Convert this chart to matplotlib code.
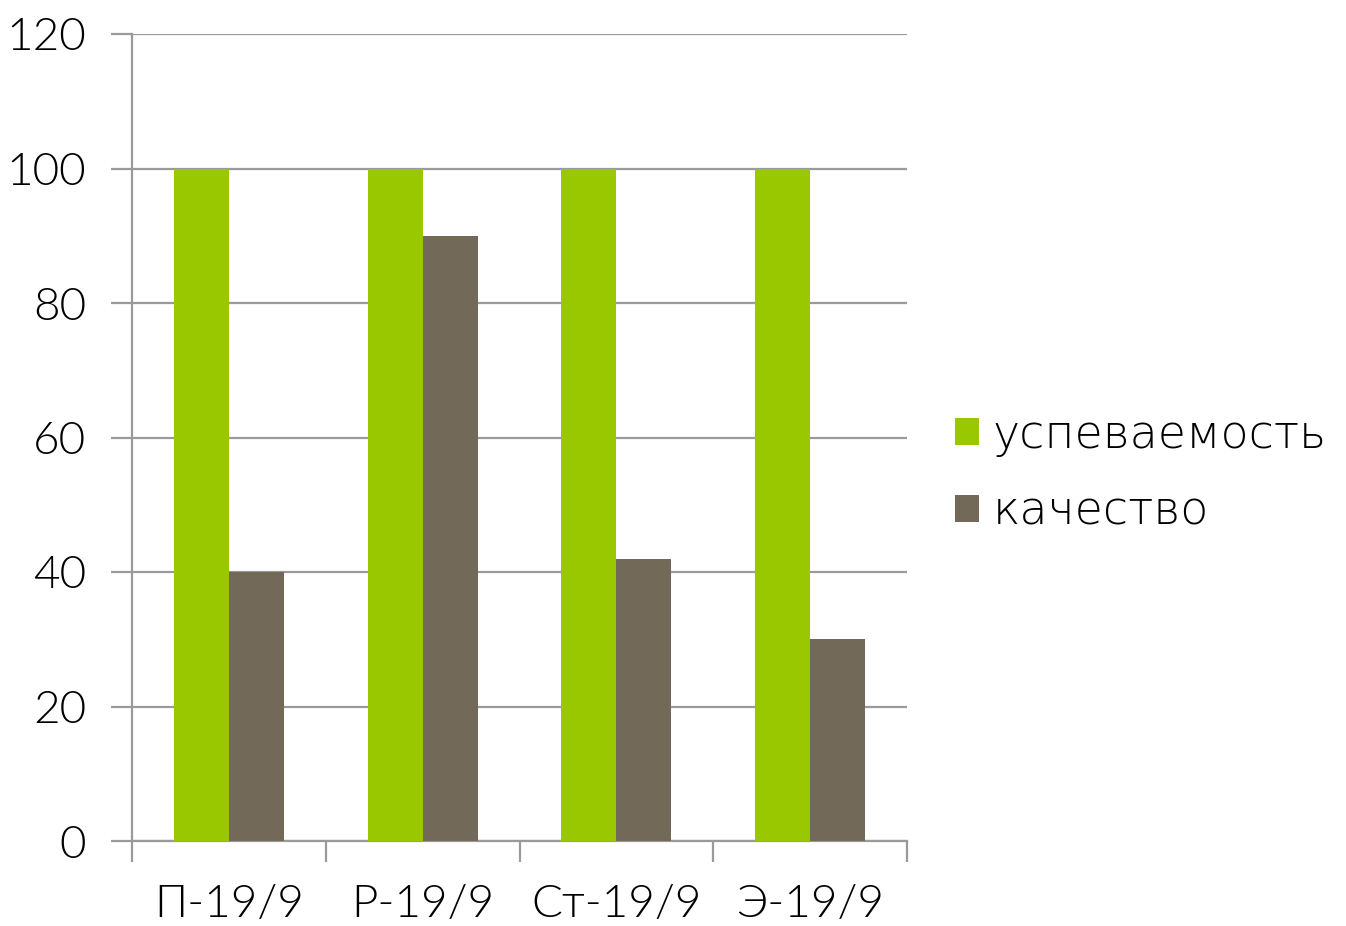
import matplotlib.pyplot as plt
import numpy as np

# данные
groups = ['П-19/9', 'Р-19/9', 'Ст-19/9', 'Э-19/9']
uspevaemost = [100, 100, 100, 100]
kachestvo = [40, 90, 42, 30]

green = '#99C800'
brown = '#736958'
grid_col = '#9A9A9A'

plt.rcParams['font.family'] = ['Lato', 'DejaVu Sans']
plt.rcParams['font.weight'] = 300

fig = plt.figure(figsize=(13.46, 9.26), dpi=100)
ax = fig.add_axes([132 / 1346, 85 / 926, 775 / 1346, 807 / 926])

x = np.arange(len(groups))
w = 0.284
ax.bar(x - w / 2, uspevaemost, w, color=green, label='успеваемость', zorder=3)
ax.bar(x + w / 2, kachestvo, w, color=brown, label='качество', zorder=3)

ax.set_xlim(-0.5, len(groups) - 0.5)
ax.set_ylim(0, 120)
ax.set_yticks(range(0, 121, 20))
ax.yaxis.grid(True, color=grid_col, linewidth=1.6, zorder=0)

# подписи категорий по центру, засечки на границах
ax.set_xticks(x)
ax.set_xticklabels(groups, fontsize=33)
ax.set_xticks(np.arange(-0.5, len(groups)), minor=True)
ax.tick_params(axis='x', which='major', length=0, pad=31)
ax.tick_params(axis='x', which='minor', length=15, width=1.6, color=grid_col)
ax.tick_params(axis='y', length=15, width=1.6, color=grid_col, labelsize=33, pad=18)

for s in ['top', 'right']:
    ax.spines[s].set_visible(False)
for s in ['left', 'bottom']:
    ax.spines[s].set_color(grid_col)
    ax.spines[s].set_linewidth(1.6)

ax.legend(loc='center left', bbox_to_anchor=(1.062, 0.456), frameon=False,
          prop={'family': ['DejaVu Sans'], 'size': 33, 'weight': 'light'},
          handlelength=0.52, handleheight=0.52, handletextpad=0.3,
          labelspacing=0.72, borderpad=0, borderaxespad=0)

plt.savefig('out.png', dpi=100)
